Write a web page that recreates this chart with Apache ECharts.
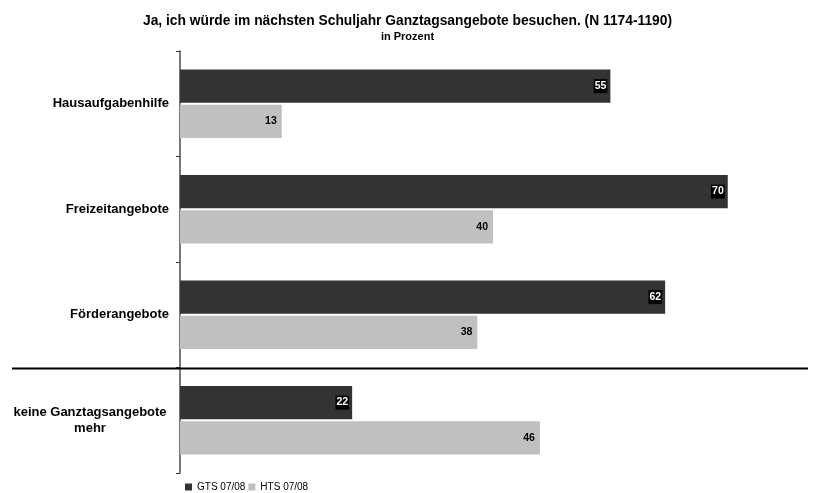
<!DOCTYPE html>
<html><head><meta charset="utf-8">
<script src="https://cdn.jsdelivr.net/npm/echarts@6/dist/echarts.min.js"></script>
<style>html,body{margin:0;padding:0;background:#fff}#c{width:815px;height:493px}</style>
</head><body><div id="c"></div>
<script>
var categories = ['Hausaufgabenhilfe', 'Freizeitangebote', 'Förderangebote', 'keine Ganztagsangebote\nmehr'];
var gtsValues = [55, 70, 62, 22];
var htsValues = [13, 40, 38, 46];
var seriesNames = ['GTS 07/08', 'HTS 07/08'];
var titleText = 'Ja, ich würde im nächsten Schuljahr Ganztagsangebote besuchen. (N 1174-1190)';
var subtitleText = 'in Prozent';

var chart = echarts.init(document.getElementById('c'), null, {renderer: 'canvas'});
var FONT = '"Liberation Sans", Arial, sans-serif';
var option = {
  animation: false,
  title: {
    text: titleText, subtext: subtitleText, left: 'center', top: 9, itemGap: 3,
    textStyle: {fontFamily: FONT, fontSize: 13.8, fontWeight: 'bold', color: '#000'},
    subtextStyle: {fontFamily: FONT, fontSize: 11, fontWeight: 'bold', color: '#000'}
  },
  legend: {
    left: 180, bottom: -4, itemWidth: 7, itemHeight: 7, itemGap: 3,
    icon: 'rect',
    textStyle: {fontFamily: FONT, fontSize: 10, color: '#000'},
    data: seriesNames
  },
  grid: {left: 180, right: 9, top: 51, bottom: 20, containLabel: false},
  xAxis: {type: 'value', min: 0, max: 80, show: false},
  yAxis: {
    type: 'category', data: categories, inverse: true,
    axisLine: {show: true, lineStyle: {color: '#4d4d4d', width: 1.5}},
    axisTick: {show: true, length: 4, lineStyle: {color: '#333', width: 1}},
    axisLabel: {
      fontFamily: FONT, fontSize: 13, fontWeight: 'bold', color: '#000', margin: 11,
      formatter: function (v) {
        if (v.indexOf('\n') >= 0) {
          return v.split('\n').map(function (s) { return '{c|' + s + '}'; }).join('\n');
        }
        return v;
      },
      rich: {c: {fontFamily: FONT, fontSize: 13, fontWeight: 'bold', color: '#000', width: 158, align: 'center', lineHeight: 16}}
    }
  },
  series: [
    {
      name: seriesNames[0], type: 'bar', data: gtsValues,
      itemStyle: {color: '#333333'}, barCategoryGap: '35%', barGap: '6%',
      label: {show: true, position: 'insideRight', distance: 3, fontFamily: FONT, fontSize: 10.5, fontWeight: 'bold',
        color: '#fff', backgroundColor: '#000', padding: [2, 1, 1, 1]}
    },
    {
      name: seriesNames[1], type: 'bar', data: htsValues,
      itemStyle: {color: '#c0c0c0'}, barCategoryGap: '35%', barGap: '6%',
      label: {show: true, position: 'insideRight', distance: 5, fontFamily: FONT, fontSize: 10.5, fontWeight: 'bold', color: '#000'}
    }
  ]
};
chart.setOption(option);
var yA = chart.convertToPixel({yAxisIndex: 0}, categories[2]);
var yB = chart.convertToPixel({yAxisIndex: 0}, categories[3]);
var ySep = Math.round((yA + yB) / 2) + 0.5;
chart.setOption({
  graphic: [{type: 'line', shape: {x1: 12, y1: ySep, x2: 808, y2: ySep}, style: {stroke: '#000', lineWidth: 2}, z: 10}]
});
</script></body></html>
